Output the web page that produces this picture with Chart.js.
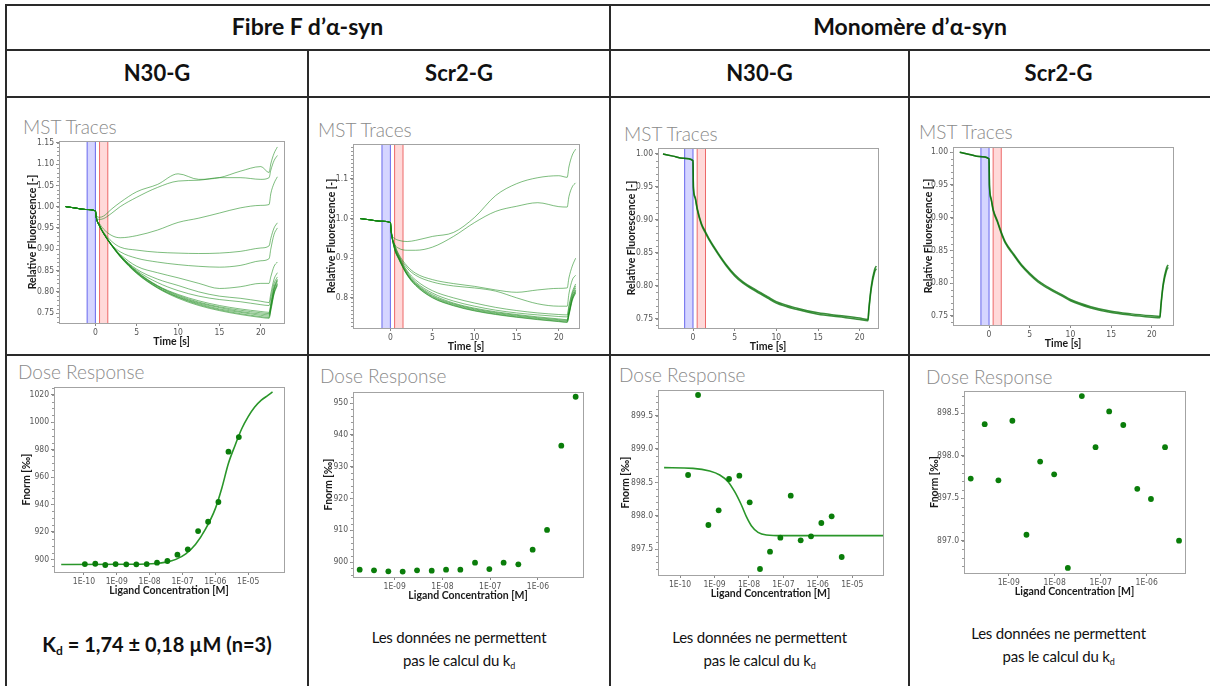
<!DOCTYPE html>
<html><head><meta charset="utf-8">
<script src="https://cdn.jsdelivr.net/npm/chart.js@4.4.1/dist/chart.umd.min.js"></script>
<style>
body{margin:0;width:1210px;height:686px;background:#fff;position:relative;overflow:hidden;font-family:Lato,"Noto Sans",sans-serif;color:#111}
.hl{position:absolute;background:#2a2a2a;height:2px}
.vl{position:absolute;background:#2a2a2a;width:2px}
.hdr{position:absolute;font-weight:bold;font-size:22px;text-align:center;white-space:nowrap}
.ttl{position:absolute;color:#8a8a8a;font-size:19px;font-weight:300;white-space:nowrap;line-height:20px}
.note{position:absolute;text-align:center;font-size:15px;letter-spacing:-0.2px;line-height:23px;white-space:nowrap}
.kd{position:absolute;text-align:center;font-size:20px;font-weight:bold;white-space:nowrap}
sub{font-size:60%;vertical-align:-3px;line-height:0}
canvas{position:absolute}
</style></head><body>

<div class="hl" style="left:6px;top:4px;width:1204px"></div>
<div class="hl" style="left:6px;top:49px;width:1204px"></div>
<div class="hl" style="left:6px;top:96px;width:1204px"></div>
<div class="hl" style="left:6px;top:354px;width:1204px"></div>
<div class="vl" style="left:5px;top:4px;height:682px"></div>
<div class="vl" style="left:307px;top:49px;height:637px"></div>
<div class="vl" style="left:609px;top:4px;height:682px"></div>
<div class="vl" style="left:908px;top:49px;height:637px"></div>

<div class="hdr" style="left:6px;width:603px;top:12px;font-size:23px">Fibre F d’α-syn</div>
<div class="hdr" style="left:610px;width:600px;top:12px;font-size:23px">Monomère d’α-syn</div>
<div class="hdr" style="left:6px;width:302px;top:59px">N30-G</div>
<div class="hdr" style="left:308px;width:302px;top:59px">Scr2-G</div>
<div class="hdr" style="left:610px;width:299px;top:59px">N30-G</div>
<div class="hdr" style="left:909px;width:299px;top:59px">Scr2-G</div>

<div class="ttl" style="left:23px;top:117px">MST Traces</div>
<div class="ttl" style="left:318px;top:120px">MST Traces</div>
<div class="ttl" style="left:624px;top:124px">MST Traces</div>
<div class="ttl" style="left:919px;top:122px">MST Traces</div>
<div class="ttl" style="left:18px;top:362px">Dose Response</div>
<div class="ttl" style="left:320px;top:366px">Dose Response</div>
<div class="ttl" style="left:619px;top:365px">Dose Response</div>
<div class="ttl" style="left:926px;top:367px">Dose Response</div>

<div class="kd" style="left:6px;width:302px;top:632px">K<sub>d</sub> = 1,74 ± 0,18 µM (n=3)</div>
<div class="note" style="left:308px;width:302px;top:626px">Les données ne permettent<br>pas le calcul du k<sub>d</sub></div>
<div class="note" style="left:610px;width:299px;top:626px">Les données ne permettent<br>pas le calcul du k<sub>d</sub></div>
<div class="note" style="left:909px;width:299px;top:622px">Les données ne permettent<br>pas le calcul du k<sub>d</sub></div>

<script>
// ---------- MST traces data ----------
// common pre-heating segment (before IR laser on)
const preTime = [-3.6, -2.4, -1.2, 0];
const preVals = [1.0, 0.9967, 0.9933, 0.99];
// fibre panels: time points after laser on
const fibreTime = [0.1, 0.5, 1, 2, 3, 5, 7.5, 10, 12.5, 15, 17.5, 20, 21, 21.2, 21.6, 22];
// monomer panels: denser time points after laser on
const monoTime = [0.05, 0.25, 0.5, 1, 1.5, 2, 3, 4, 5, 6, 7.5, 9, 10, 12.5, 15, 17.5, 20, 21, 21.1, 21.4, 21.8, 22];
const blueBand = [-1, 0];
const redBand = [0.5, 1.5];
const mstTimeTicks = [0, 5, 10, 15, 20];

const fibreN30Traces = [
  [0.98,0.975,0.978,0.995,1.01,1.035,1.052,1.077,1.064,1.068,1.083,1.094,1.08,1.1,1.125,1.14],
  [0.978,0.97,0.972,0.985,1.0,1.022,1.045,1.06,1.062,1.068,1.068,1.064,1.068,1.085,1.108,1.12],
  [0.975,0.96,0.947,0.932,0.927,0.932,0.945,0.963,0.973,0.985,0.997,1.003,1.005,1.03,1.055,1.07],
  [0.975,0.957,0.94,0.918,0.905,0.898,0.893,0.891,0.89,0.891,0.895,0.903,0.908,0.925,0.95,0.962],
  [0.975,0.955,0.937,0.91,0.894,0.879,0.87,0.864,0.86,0.858,0.862,0.873,0.878,0.9,0.935,0.95],
  [0.975,0.955,0.937,0.908,0.888,0.86,0.845,0.833,0.82,0.808,0.812,0.82,0.82,0.835,0.86,0.87],
  [0.975,0.955,0.937,0.908,0.885,0.853,0.83,0.815,0.8,0.79,0.785,0.778,0.775,0.795,0.83,0.845],
  [0.975,0.955,0.937,0.909,0.885,0.85,0.822,0.803,0.79,0.782,0.777,0.77,0.768,0.785,0.82,0.835],
  [0.975,0.955,0.938,0.91,0.885,0.848,0.815,0.794,0.779,0.768,0.76,0.754,0.752,0.772,0.812,0.83],
  [0.975,0.955,0.938,0.91,0.885,0.847,0.814,0.792,0.776,0.765,0.757,0.751,0.749,0.768,0.808,0.828],
  [0.975,0.955,0.937,0.909,0.884,0.846,0.813,0.79,0.774,0.763,0.754,0.748,0.746,0.765,0.805,0.825],
  [0.975,0.954,0.937,0.908,0.883,0.845,0.811,0.788,0.772,0.76,0.752,0.745,0.743,0.762,0.8,0.82],
  [0.975,0.954,0.936,0.908,0.883,0.844,0.81,0.787,0.77,0.758,0.749,0.742,0.74,0.758,0.797,0.818],
  [0.975,0.954,0.936,0.907,0.882,0.843,0.809,0.785,0.768,0.756,0.747,0.74,0.738,0.755,0.795,0.815]
];
const fibreScr2Traces = [
  [0.965,0.95,0.945,0.942,0.945,0.955,0.965,1.003,1.058,1.088,1.103,1.108,1.104,1.13,1.16,1.175],
  [0.962,0.935,0.925,0.92,0.92,0.928,0.955,0.99,1.018,1.031,1.04,1.03,1.029,1.055,1.08,1.09],
  [0.965,0.935,0.91,0.88,0.862,0.846,0.836,0.829,0.82,0.814,0.82,0.824,0.825,0.85,0.88,0.9],
  [0.965,0.933,0.907,0.875,0.857,0.84,0.83,0.825,0.817,0.8,0.785,0.779,0.779,0.81,0.845,0.857],
  [0.97,0.93,0.905,0.868,0.845,0.818,0.8,0.787,0.776,0.768,0.762,0.758,0.757,0.78,0.815,0.835],
  [0.97,0.928,0.903,0.865,0.84,0.812,0.792,0.779,0.769,0.762,0.757,0.753,0.752,0.775,0.81,0.83],
  [0.968,0.926,0.901,0.862,0.837,0.808,0.787,0.774,0.765,0.758,0.752,0.747,0.745,0.765,0.805,0.825],
  [0.968,0.925,0.9,0.86,0.835,0.805,0.785,0.772,0.763,0.756,0.75,0.745,0.743,0.762,0.8,0.82],
  [0.968,0.924,0.899,0.859,0.834,0.803,0.783,0.77,0.761,0.754,0.748,0.743,0.741,0.76,0.798,0.818],
  [0.967,0.923,0.898,0.858,0.832,0.801,0.781,0.768,0.759,0.752,0.746,0.741,0.739,0.757,0.795,0.815],
  [0.967,0.922,0.897,0.857,0.831,0.8,0.78,0.767,0.758,0.751,0.745,0.74,0.738,0.755,0.793,0.812]
];
const monoN30Traces = [
  [0.95,0.935,0.918,0.895,0.882,0.87,0.85,0.832,0.817,0.806,0.794,0.783,0.776,0.766,0.759,0.755,0.751,0.749,0.765,0.8,0.825,0.83],
  [0.948,0.933,0.916,0.893,0.88,0.868,0.848,0.83,0.815,0.804,0.792,0.781,0.774,0.764,0.757,0.753,0.749,0.747,0.762,0.796,0.821,0.826]
];
const monoScr2Traces = [
  [0.95,0.93,0.913,0.896,0.878,0.863,0.845,0.828,0.815,0.804,0.792,0.782,0.775,0.764,0.757,0.753,0.75,0.749,0.765,0.8,0.823,0.828],
  [0.948,0.928,0.911,0.894,0.876,0.861,0.843,0.826,0.813,0.802,0.79,0.78,0.773,0.762,0.755,0.751,0.748,0.747,0.762,0.796,0.819,0.824]
];

// ---------- Dose response data ----------
const fibreN30Conc = [1.07e-10,2.22e-10,4.47e-10,9.23e-10,1.95e-9,3.94e-9,8.15e-9,1.68e-8,3.48e-8,7.02e-8,1.45e-7,2.99e-7,6.03e-7,1.24e-6,2.51e-6,5.19e-6];
const fibreN30Fnorm = [896.6,896.8,895.9,896.6,896.4,896.4,896.6,897.6,898.8,903.4,907.3,920.6,927.4,941.8,978.5,989.1];
const fibreN30FitConc = [2.04e-11,3.16e-9,1.58e-8,3.16e-8,6.31e-8,1.26e-7,2.51e-7,5.01e-7,1e-6,1.58e-6,2.51e-6,3.98e-6,6.31e-6,1e-5,1.58e-5,2.51e-5,3.98e-5,5.5e-5];
const fibreN30Fit = [896.3,896.4,897.0,898.0,900.0,904.0,911.0,922.0,937.0,952.0,970.0,983.0,995.0,1004.0,1011.0,1016.0,1019.5,1022.0];

const fibreScr2Conc = [1.85e-10,3.69e-10,7.36e-10,1.47e-9,2.94e-9,5.96e-9,1.19e-8,2.37e-8,4.81e-8,9.59e-8,1.91e-7,3.88e-7,7.74e-7,1.55e-6,3.08e-6,6.15e-6];
const fibreScr2Fnorm = [897.6,897.4,897.1,897.0,897.4,897.3,897.6,897.6,899.8,897.8,899.8,899.3,903.9,910.1,936.6,952.0];

const monoN30Conc = [1.71e-10,3.33e-10,6.64e-10,1.32e-9,2.64e-9,5.26e-9,1.05e-8,2.09e-8,4.08e-8,8.15e-8,1.63e-7,3.17e-7,6.32e-7,1.26e-6,2.51e-6,4.91e-6];
const monoN30Fnorm = [898.61,899.81,897.86,898.08,898.55,898.6,898.2,897.2,897.46,897.67,898.3,897.63,897.69,897.89,897.99,897.38];
const monoN30FitConc = [3.44e-11,2.38e-10,7.26e-10,1.42e-9,2.47e-9,3.85e-9,6.03e-9,8.41e-9,1.17e-8,1.83e-8,3.21e-8,9.75e-8,7.76e-5];
const monoN30Fit = [898.72,898.71,898.67,898.61,898.51,898.36,898.16,897.985,897.85,897.75,897.71,897.70,897.70];

const monoScr2Conc = [1.49e-10,3.0e-10,5.96e-10,1.2e-9,2.43e-9,4.82e-9,9.72e-9,1.93e-8,3.89e-8,7.73e-8,1.53e-7,3.1e-7,6.25e-7,1.24e-6,2.51e-6,5.06e-6];
const monoScr2Fnorm = [897.73,898.37,897.71,898.41,897.07,897.93,897.78,896.68,898.70,898.10,898.52,898.36,897.61,897.49,898.10,897.0];

const concTicksWide = [1e-10,1e-9,1e-8,1e-7,1e-6,1e-5];
const concTicksNarrow = [1e-9,1e-8,1e-7,1e-6];

// ---------- plugins ----------
const framePlugin = {
  id: 'frame',
  afterDatasetsDraw(chart) {
    const {ctx, chartArea: a} = chart;
    ctx.save(); ctx.strokeStyle = '#a3a3a3'; ctx.lineWidth = 1;
    ctx.strokeRect(Math.round(a.left) + 0.5, Math.round(a.top) + 0.5, Math.round(a.right - a.left), Math.round(a.bottom - a.top));
    ctx.restore();
  }
};
const bandPlugin = {
  id: 'bands',
  beforeDatasetsDraw(chart, args, opts) {
    if (!opts.show) return;
    const {ctx, chartArea: a, scales: {x}} = chart;
    ctx.save();
    [[blueBand, 'rgba(150,150,255,0.40)', 'rgba(90,90,235,0.9)'],
     [redBand, 'rgba(255,160,160,0.40)', 'rgba(235,90,90,0.9)']].forEach(([b, f, s]) => {
      const x0 = x.getPixelForValue(b[0]), x1 = x.getPixelForValue(b[1]);
      ctx.fillStyle = f; ctx.fillRect(x0, a.top, x1 - x0, a.bottom - a.top);
      ctx.strokeStyle = s; ctx.lineWidth = 1; ctx.beginPath();
      ctx.moveTo(x0, a.top); ctx.lineTo(x0, a.bottom); ctx.moveTo(x1, a.top); ctx.lineTo(x1, a.bottom); ctx.stroke();
    });
    ctx.restore();
  }
};
const minorPlugin = {
  id: 'minor',
  afterDraw(chart, args, opts) {
    if (!opts.step) return;
    const {ctx, scales: {y}} = chart;
    ctx.save(); ctx.strokeStyle = '#999'; ctx.lineWidth = 1; ctx.beginPath();
    const n0 = Math.ceil(y.min / opts.step), n1 = Math.floor(y.max / opts.step);
    for (let n = n0; n <= n1; n++) {
      const p = Math.round(y.getPixelForValue(n * opts.step)) + 0.5;
      ctx.moveTo(y.right - 2, p); ctx.lineTo(y.right, p);
    }
    ctx.stroke(); ctx.restore();
  }
};
Chart.register(framePlugin, bandPlugin, minorPlugin);
Chart.defaults.font.family = 'Lato, "Noto Sans", sans-serif';

const fmtConc = v => '1E-' + String(-Math.round(Math.log10(v))).padStart(2, '0');

function makeChart(c) {
  const TP = 8, RP = 8, XH = 25;
  const p = c.plot;
  const W = Math.round(p.r - p.l + c.yw + RP), H = Math.round(p.b - p.t + TP + XH);
  const cv = document.createElement('canvas');
  cv.width = W; cv.height = H;
  cv.style.left = Math.round(p.l - c.yw) + 'px'; cv.style.top = Math.round(p.t - TP) + 'px';
  cv.style.width = W + 'px'; cv.style.height = H + 'px';
  document.body.appendChild(cv);
  const tickFont = {size: 8.5, family: '"Liberation Sans Narrow", "DejaVu Sans Condensed", Lato, sans-serif'};
  const titleFont = {size: 10.5, weight: 'bold', family: 'Lato, "Noto Sans", sans-serif'};
  new Chart(cv, {
    type: 'scatter',
    data: {datasets: c.datasets},
    options: {
      responsive: false, animation: false, devicePixelRatio: 1,
      layout: {padding: {top: TP, right: RP, left: 0, bottom: 0}},
      plugins: {legend: {display: false}, tooltip: {enabled: false},
        bands: {show: !!c.bands}, minor: {step: c.minor}},
      scales: {
        x: {
          type: c.xType, min: c.xMin, max: c.xMax,
          afterBuildTicks: s => { s.ticks = c.xTicks.map(v => ({value: v})); },
          afterFit: s => { s.height = XH; },
          ticks: {callback: c.xFmt, font: tickFont, color: '#555', maxRotation: 0, autoSkip: false, padding: 2},
          grid: {drawOnChartArea: false, tickLength: 3, color: '#888'},
          border: {color: '#a3a3a3'},
          title: {display: true, text: c.xTitle, font: titleFont, color: '#1a1a1a', padding: 0}
        },
        y: {
          type: 'linear', min: c.yMin, max: c.yMax,
          afterBuildTicks: s => { s.ticks = c.yTicks.map(v => ({value: v})); },
          afterFit: s => { s.width = c.yw; },
          ticks: {callback: v => v.toFixed(c.yDec), font: tickFont, color: '#555', autoSkip: false, padding: 2},
          grid: {drawOnChartArea: false, tickLength: 3, color: '#888'},
          border: {color: '#a3a3a3'},
          title: {display: true, text: c.yTitle, font: titleFont, color: '#1a1a1a', padding: 0}
        }
      }
    }
  });
}

function traceSets(time, traces, color, width) {
  return traces.map(tr => ({
    data: preTime.map((t, i) => ({x: t, y: preVals[i]})).concat(time.map((t, i) => ({x: t, y: tr[i]}))),
    showLine: true, pointRadius: 0, borderColor: color, borderWidth: width,
    cubicInterpolationMode: 'monotone'
  }));
}
function pointSet(conc, vals) {
  return {data: conc.map((x, i) => ({x, y: vals[i]})), pointRadius: 2.9, pointBackgroundColor: '#0a7d0a', pointBorderWidth: 0, showLine: false};
}
function fitSet(conc, vals) {
  return {data: conc.map((x, i) => ({x, y: vals[i]})), showLine: true, pointRadius: 0, borderColor: '#2a962a', borderWidth: 1.6, cubicInterpolationMode: 'monotone'};
}

const mstCommon = {xType: 'linear', xTicks: mstTimeTicks, xFmt: v => String(v), xTitle: 'Time [s]', yTitle: 'Relative Fluorescence [-]', bands: true};
const doseCommon = {xType: 'logarithmic', xFmt: fmtConc, xTitle: 'Ligand Concentration [M]', yTitle: 'Fnorm [‰]'};

makeChart({...mstCommon, plot: {l: 59, r: 284, t: 141, b: 323}, yw: 33,
  xMin: -4.4, xMax: 22.8, yMin: 0.727, yMax: 1.154, yTicks: [0.75,0.8,0.85,0.9,0.95,1.0,1.05,1.1,1.15], yDec: 2, minor: 0.01,
  datasets: traceSets(fibreTime, fibreN30Traces, 'rgba(20,135,20,0.55)', 1)});
makeChart({...mstCommon, plot: {l: 353, r: 579, t: 144, b: 328}, yw: 28,
  xMin: -4.44, xMax: 22.4, yMin: 0.724, yMax: 1.188, yTicks: [0.8,0.9,1.0,1.1], yDec: 1, minor: 0.01,
  datasets: traceSets(fibreTime, fibreScr2Traces, 'rgba(20,135,20,0.55)', 1)});
makeChart({...mstCommon, plot: {l: 658, r: 878, t: 148, b: 328}, yw: 33,
  xMin: -4.2, xMax: 22.2, yMin: 0.736, yMax: 1.009, yTicks: [0.75,0.8,0.85,0.9,0.95,1.0], yDec: 2, minor: 0.01,
  datasets: traceSets(monoTime, monoN30Traces, 'rgba(10,115,10,0.8)', 1.5)});
makeChart({...mstCommon, plot: {l: 953, r: 1173, t: 147, b: 325}, yw: 31,
  xMin: -4.43, xMax: 22.6, yMin: 0.736, yMax: 1.008, yTicks: [0.75,0.8,0.85,0.9,0.95,1.0], yDec: 2, minor: 0.01,
  datasets: traceSets(monoTime, monoScr2Traces, 'rgba(10,115,10,0.8)', 1.5)});

makeChart({...doseCommon, plot: {l: 54, r: 284, t: 387, b: 572}, yw: 34,
  xMin: 1.23e-11, xMax: 1.23e-4, xTicks: concTicksWide, yMin: 890.8, yMax: 1025.6,
  yTicks: [900,920,940,960,980,1000,1020], yDec: 0, minor: 5,
  datasets: [pointSet(fibreN30Conc, fibreN30Fnorm), fitSet(fibreN30FitConc, fibreN30Fit)]});
makeChart({...doseCommon, plot: {l: 353, r: 583, t: 392, b: 577}, yw: 31,
  xMin: 1.34e-10, xMax: 8.77e-6, xTicks: concTicksNarrow, yMin: 895.3, yMax: 953.5,
  yTicks: [900,910,920,930,940,950], yDec: 0, minor: 2,
  datasets: [pointSet(fibreScr2Conc, fibreScr2Fnorm)]});
makeChart({...doseCommon, plot: {l: 658, r: 883, t: 390, b: 575}, yw: 39,
  xMin: 2.29e-11, xMax: 7.76e-5, xTicks: concTicksWide, yMin: 897.11, yMax: 899.885,
  yTicks: [897.5,898.0,898.5,899.0,899.5], yDec: 1, minor: 0.1,
  datasets: [pointSet(monoN30Conc, monoN30Fnorm), fitSet(monoN30FitConc, monoN30Fit)]});
makeChart({...doseCommon, plot: {l: 964, r: 1185, t: 391, b: 573}, yw: 36,
  xMin: 1.064e-10, xMax: 6.82e-6, xTicks: concTicksNarrow, yMin: 896.62, yMax: 898.76,
  yTicks: [897.0,897.5,898.0,898.5], yDec: 1, minor: 0.1,
  datasets: [pointSet(monoScr2Conc, monoScr2Fnorm)]});
</script>
</body></html>
